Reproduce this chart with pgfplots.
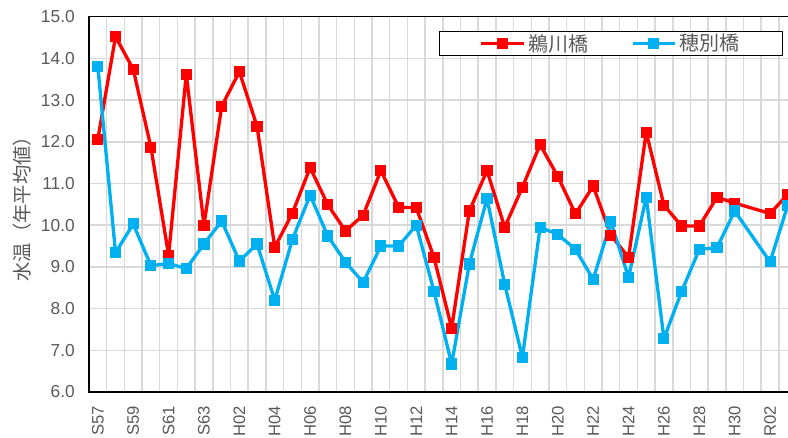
\documentclass[border=0pt]{standalone}
\usepackage{fontspec}
\setmainfont{Liberation Sans}
\newfontfamily\cjk{Noto Sans CJK JP}
\usepackage{pgfplots}
\usepackage{pgfplotstable}
\pgfplotsset{compat=1.18}
\definecolor{ugawa}{HTML}{FF0000}
\definecolor{hobetsu}{HTML}{00B0F0}
\definecolor{txtgray}{HTML}{595959}
\definecolor{gridgray}{HTML}{D9D9D9}

% annual mean water temperature, index 0 = S57 ... 39 = R03 (R01 missing)
\pgfplotstableread{
x  ugawa hobetsu
0  12.06 13.80
1  14.52 9.34
2  13.74 10.03
3  11.87 9.03
4  9.28  9.08
5  13.62 8.96
6  10.00 9.55
7  12.85 10.10
8  13.68 9.14
9  12.37 9.55
10 9.47  8.20
11 10.29 9.66
12 11.38 10.72
13 10.49 9.74
14 9.86  9.11
15 10.24 8.63
16 11.31 9.50
17 10.43 9.50
18 10.42 10.00
19 9.23  8.42
20 7.53  6.67
21 10.34 9.07
22 11.31 10.64
23 9.95  8.58
24 10.91 6.83
25 11.93 9.95
26 11.17 9.78
27 10.27 9.42
28 10.94 8.70
29 9.76  10.08
30 9.23  8.75
31 12.23 10.67
32 10.48 7.28
33 9.98  8.41
34 9.98  9.42
35 10.67 9.46
36 10.53 10.34
38 10.28 9.12
39 10.74 10.48
}\watertemp

\begin{document}
\begin{tikzpicture}
\begin{axis}[
    at={(66.75pt,34.5pt)}, anchor=south west,
    scale only axis,
    width=530.7pt, height=281.5pt,
    xmin=-0.5, xmax=39.5,
    ymin=6, ymax=15,
    ytick={6,7,...,15},
    xtick={0,2,...,38},
    xticklabels={S57,S59,S61,S63,H02,H04,H06,H08,H10,H12,H14,H16,H18,H20,H22,H24,H26,H28,H30,R02},
    minor xtick={0.5,1.5,...,38.5},
    xminorgrids, ymajorgrids,
    major grid style={gridgray, line width=1.1pt},
    minor grid style={gridgray, line width=1.1pt},
    major tick length=0pt, minor tick length=0pt,
    axis line style={black, line width=1.2pt},
    /pgf/number format/assume math mode=true,
    y tick label style={/pgf/number format/fixed, /pgf/number format/fixed zerofill, /pgf/number format/precision=1},
    tick label style={font=\fontsize{13}{15}\selectfont, text=txtgray, inner sep=0pt},
    x tick label style={rotate=90, anchor=east, font=\fontsize{12.5}{14}\selectfont},
    xticklabel shift=10.5pt,
    yticklabel shift=10.5pt,
    ylabel={\cjk 水温（年平均値）},
    ylabel style={at={(axis description cs:-0.0947,0.5)}, anchor=center, font=\fontsize{14.5}{16}\selectfont, text=txtgray},
    legend columns=2,
    legend style={at={(0.4946,0.962)}, anchor=north west, draw=black, line width=0.9pt,
        font=\cjk\fontsize{15}{17}\selectfont, text=txtgray,
        inner xsep=30pt, inner ysep=0pt,
        /tikz/every even column/.append style={column sep=30pt}},
    legend image code/.code={\draw[mark repeat=2, mark phase=2, #1] plot coordinates {(0pt,0pt) (16pt,0pt) (32pt,0pt)};},
]
\addplot[ugawa, line width=2.5pt, line join=round, mark=square*, mark size=3.8pt,
    mark options={fill=ugawa, draw=ugawa, line width=0pt}] table[x=x, y=ugawa] {\watertemp};
\addlegendentry{鵜川橋}
\addplot[hobetsu, line width=2.5pt, line join=round, mark=square*, mark size=3.8pt,
    mark options={fill=hobetsu, draw=hobetsu, line width=0pt}] table[x=x, y=hobetsu] {\watertemp};
\addlegendentry{穂別橋}
\end{axis}
\pgfresetboundingbox
\path[use as bounding box] (0,0) rectangle (591pt,328.5pt);
\end{tikzpicture}
\end{document}
